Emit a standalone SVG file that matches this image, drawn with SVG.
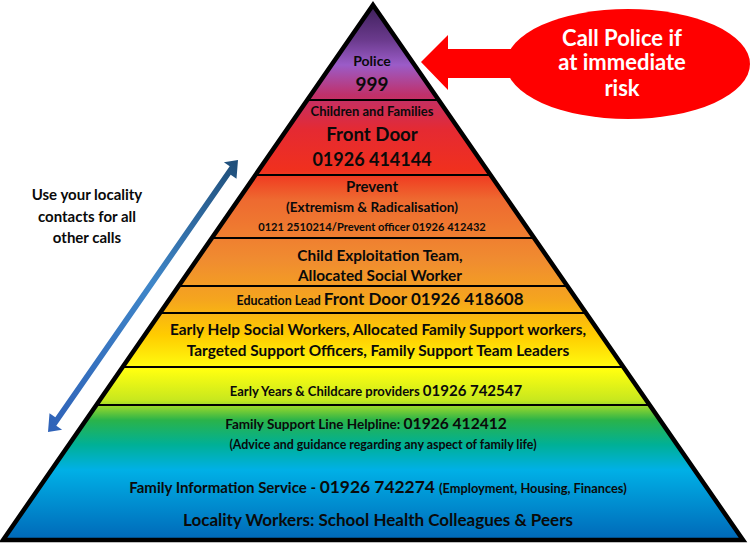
<svg xmlns="http://www.w3.org/2000/svg" width="750" height="549" viewBox="0 0 750 549">
<style>
text{font-family:Lato,"Liberation Sans",sans-serif;font-weight:bold;fill:#0a0a0a;text-anchor:middle}
.s{font-size:13px}
.m{font-size:15.4px}
.w{fill:#fff;font-size:22px}
.div{stroke:#000;stroke-width:2}
.band{fill:url(#pyr);stroke:none}
</style>
<defs>
<linearGradient id="pyr" gradientUnits="userSpaceOnUse" x1="0" y1="5" x2="0" y2="540">
<stop offset="0" stop-color="#3d1f5a"/>
<stop offset="0.065" stop-color="#6a3a8c"/>
<stop offset="0.112" stop-color="#9b5cc8"/>
<stop offset="0.168" stop-color="#c0306a"/>
<stop offset="0.234" stop-color="#e52a32"/>
<stop offset="0.308" stop-color="#f0301e"/>
<stop offset="0.364" stop-color="#ee6a30"/>
<stop offset="0.477" stop-color="#f08c30"/>
<stop offset="0.551" stop-color="#f5a51e"/>
<stop offset="0.617" stop-color="#ffcc00"/>
<stop offset="0.682" stop-color="#ffff10"/>
<stop offset="0.738" stop-color="#c8e81e"/>
<stop offset="0.776" stop-color="#2ab34a"/>
<stop offset="0.822" stop-color="#00b096"/>
<stop offset="0.869" stop-color="#00b0e6"/>
<stop offset="1" stop-color="#0068b8"/>
</linearGradient>
<linearGradient id="blue" gradientUnits="userSpaceOnUse" x1="238" y1="160" x2="48" y2="432">
<stop offset="0" stop-color="#1f4e79"/>
<stop offset="0.45" stop-color="#3f86c8"/>
<stop offset="1" stop-color="#2f62b8"/>
</linearGradient>
</defs>

<g id="band-police">
<polygon class="band" points="373,5 438.7,100 307.3,100"/>
<text x="372" y="66" style="font-size:14px">Police</text>
<text x="372" y="91" style="font-size:19px">999</text>
</g>
<g id="band-front-door">
<polygon class="band" points="307.3,100 438.7,100 490.6,175 255.4,175"/>
<text x="372" y="116" class="s">Children and Families</text>
<text x="372" y="141" style="font-size:18.7px">Front Door</text>
<text x="372" y="166" style="font-size:18px">01926 414144</text>
</g>
<g id="band-prevent">
<polygon class="band" points="255.4,175 490.6,175 534.1,238 211.9,238"/>
<text x="372" y="192" style="font-size:15px">Prevent</text>
<text x="372" y="212" style="font-size:13.6px">(Extremism &amp; Radicalisation)</text>
<text x="372" y="231" style="font-size:11.1px">0121 2510214/Prevent officer 01926 412432</text>
</g>
<g id="band-exploitation">
<polygon class="band" points="211.9,238 534.1,238 567.3,286 178.7,286"/>
<text x="380" y="261" class="m">Child Exploitation Team,</text>
<text x="380" y="281" class="m">Allocated Social Worker</text>
</g>
<g id="band-education">
<polygon class="band" points="178.7,286 567.3,286 586,313 160,313"/>
<text x="380" y="305"><tspan style="font-size:12.4px">Education Lead </tspan><tspan style="font-size:17px">Front Door 01926 418608</tspan></text>
</g>
<g id="band-early-help">
<polygon class="band" points="160,313 586,313 623.4,367 122.6,367"/>
<text x="378" y="335" class="m">Early Help Social Workers, Allocated Family Support workers,</text>
<text x="378" y="356" class="m">Targeted Support Officers, Family Support Team Leaders</text>
</g>
<g id="band-early-years">
<polygon class="band" points="122.6,367 623.4,367 649.6,405 96.4,405"/>
<text x="376" y="396"><tspan class="s">Early Years &amp; Childcare providers </tspan><tspan style="font-size:15px">01926 742547</tspan></text>
</g>
<g id="band-base">
<polygon class="band" points="96.4,405 649.6,405 743,540 3,540"/>
<text x="366" y="429"><tspan style="font-size:13.5px">Family Support Line Helpline: </tspan><tspan style="font-size:15.6px">01926 412412</tspan></text>
<text x="383" y="449" style="font-size:12.4px">(Advice and guidance regarding any aspect of family life)</text>
<text x="378" y="493"><tspan style="font-size:15px">Family Information Service - </tspan><tspan style="font-size:17.4px">01926 742274 </tspan><tspan style="font-size:12.8px">(Employment, Housing, Finances)</tspan></text>
<text x="378" y="526" style="font-size:17px">Locality Workers: School Health Colleagues &amp; Peers</text>
</g>

<g id="dividers">
<line class="div" x1="307.3" y1="100" x2="438.7" y2="100"/>
<line class="div" x1="255.4" y1="175" x2="490.6" y2="175"/>
<line class="div" x1="211.9" y1="238" x2="534.1" y2="238"/>
<line class="div" x1="178.7" y1="286" x2="567.3" y2="286"/>
<line class="div" x1="160" y1="313" x2="586" y2="313"/>
<line class="div" x1="122.6" y1="367" x2="623.4" y2="367"/>
<line class="div" x1="96.4" y1="405" x2="649.6" y2="405"/>
</g>
<polygon id="outline" points="373,5 743,540 3,540" fill="none" stroke="#000" stroke-width="4.5" stroke-linejoin="miter"/>

<g id="callout">
<ellipse cx="628" cy="64" rx="122" ry="55" fill="#ff0000"/>
<polygon points="421,62 448,35 448,49 530,49 530,78 448,78 448,90" fill="#ff0000"/>
<text x="622" y="46" class="w">Call Police if</text>
<text x="622" y="70" class="w">at immediate</text>
<text x="622" y="96" class="w">risk</text>
</g>

<g id="connectors">
<polygon points="238,160 236.5,178.7 230.7,174.7 56.3,425.8 62.1,429.8 48,432 49.5,413.3 55.3,417.3 229.7,166.2 223.9,162.2" fill="url(#blue)"/>
</g>

<g id="note">
<text x="87" y="200" style="font-size:15px">Use your locality</text>
<text x="87" y="222" style="font-size:15px">contacts for all</text>
<text x="87" y="243" style="font-size:15px">other calls</text>
</g>
</svg>
